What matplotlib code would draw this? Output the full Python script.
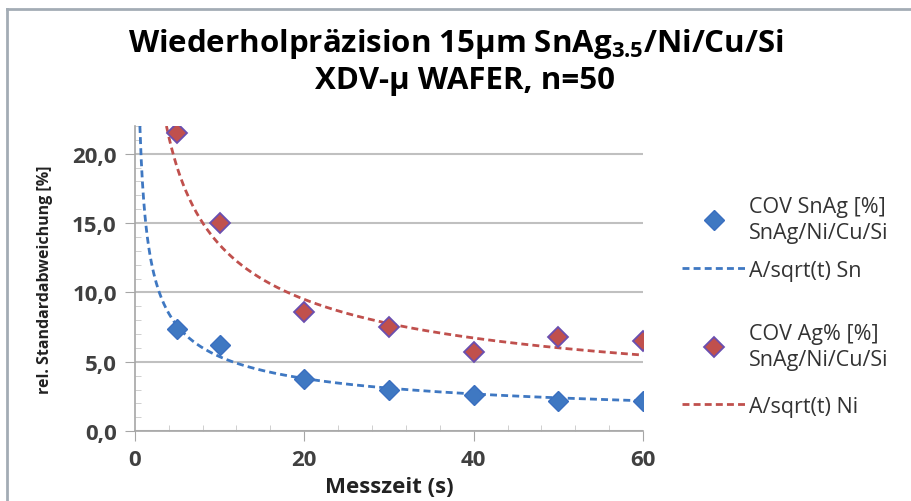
import numpy as np
import matplotlib
matplotlib.use("Agg")
import matplotlib.pyplot as plt
from matplotlib.lines import Line2D
from matplotlib.ticker import FuncFormatter, MultipleLocator

plt.rcParams['font.family'] = ['Open Sans', 'DejaVu Sans']

# measured points
t_meas = [5, 10, 20, 30, 40, 50, 60]
cov_snag = [7.4, 6.2, 3.8, 3.0, 2.6, 2.2, 2.2]
cov_ag = [21.5, 15.0, 8.6, 7.5, 5.7, 6.8, 6.5]

# fit constants A of A/sqrt(t)
A_sn = 17.0
A_ni = 42.5

blue = '#3f78c2'
red = '#c0504d'
ymax = 22

fig = plt.figure(figsize=(9.11, 5.02), dpi=100)
ax = fig.add_axes([0.148, 0.139, 0.558, 0.608])

t_sn = np.linspace((A_sn / ymax) ** 2, 60, 400)
t_ni = np.linspace((A_ni / ymax) ** 2, 60, 400)
l_sn, = ax.plot(t_sn, A_sn / np.sqrt(t_sn), ls=(0, (2.5, 1.5)), color=blue, lw=2)
l_ni, = ax.plot(t_ni, A_ni / np.sqrt(t_ni), ls=(0, (2.5, 1.5)), color=red, lw=2)
p_sn, = ax.plot(t_meas, cov_snag, 'D', ms=10.5, color=blue, mec='#3a6fc0', ls='none')
p_ag, = ax.plot(t_meas, cov_ag, 'D', ms=10.5, color=red, mec='#6a4fb0', mew=1.3, ls='none')

ax.set_xlim(0, 60)
ax.set_ylim(0, ymax)
ax.xaxis.set_major_locator(MultipleLocator(20))
ax.xaxis.set_minor_locator(MultipleLocator(4))
ax.yaxis.set_major_locator(MultipleLocator(5))
ax.yaxis.set_minor_locator(MultipleLocator(1))
ax.yaxis.set_major_formatter(FuncFormatter(lambda v, p: ('%.1f' % v).replace('.', ',')))
ax.grid(axis='y', color='#c0c0c0', lw=1.5)
ax.set_axisbelow(True)
for s in ['top', 'right']:
    ax.spines[s].set_visible(False)
for s in ['left', 'bottom']:
    ax.spines[s].set_color('#a6a6a6')
    ax.spines[s].set_linewidth(1.2)
ax.tick_params(which='major', direction='out', length=7, color='#a6a6a6',
               labelsize=16, labelcolor='#404040', pad=6)
ax.tick_params(which='minor', direction='in', length=4, color='#c8c8c8')
for lab in ax.get_xticklabels() + ax.get_yticklabels():
    lab.set_fontweight('bold')

ax.set_xlabel('Messzeit (s)', fontsize=16, fontweight='bold', color='#222222', labelpad=4)
ax.set_ylabel('rel. Standardabweichung [%]', fontsize=11.5, fontweight='bold', color='#222222', labelpad=14)

fig.text(0.5, 0.912, 'Wiederholpräzision 15µm SnAg$_{\\mathregular{3.5}}$/Ni/Cu/Si',
         ha='center', va='center', fontsize=22.5, fontweight='bold')
fig.text(0.51, 0.838, 'XDV-µ WAFER, n=50', ha='center', va='center', fontsize=22.5, fontweight='bold')

leg_kw = dict(loc='upper left', frameon=False, fontsize=15.5, handlelength=2.9,
              handletextpad=0.2, borderaxespad=0, borderpad=0)
leg1 = fig.legend([p_sn, l_sn], ['COV SnAg [%]\nSnAg/Ni/Cu/Si', 'A/sqrt(t) Sn'],
                  bbox_to_anchor=(0.749, 0.608), labelspacing=0.8, **leg_kw)
leg2 = fig.legend([p_ag, l_ni], ['COV Ag% [%]\nSnAg/Ni/Cu/Si', 'A/sqrt(t) Ni'],
                  bbox_to_anchor=(0.749, 0.354), labelspacing=1.2, **leg_kw)
for leg in (leg1, leg2):
    for txt in leg.get_texts():
        txt.set_color('#333333')
        txt.set_linespacing(1.3)

fig.add_artist(Line2D([0.0077, 1], [0.980, 0.980], color='#a3acb5', lw=2))
fig.add_artist(Line2D([0.0077, 0.0077], [0.980, 0], color='#a3acb5', lw=2))

fig.savefig('out.png', dpi=100)
